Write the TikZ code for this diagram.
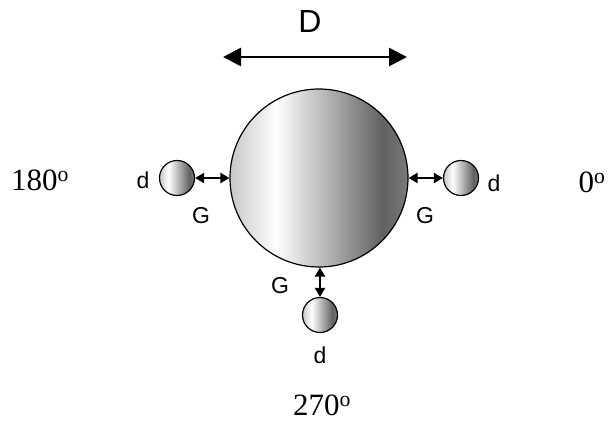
\documentclass[tikz,border=0pt]{standalone}
\usepackage{fontspec}
\setmainfont{Liberation Serif}
\setsansfont{Liberation Sans}
\usetikzlibrary{arrows.meta}
\pgfdeclarehorizontalshading{ballshade}{100bp}{color(0bp)=(black!22); color(25bp)=(black!22); color(38bp)=(white); color(68bp)=(black!62); color(75bp)=(black!52); color(100bp)=(black!52)}
\begin{document}
\begin{tikzpicture}[x=1pt,y=-1pt,
  ball/.style={circle,draw=black,line width=1.2pt,shading=ballshade,inner sep=0pt},
  gap/.style={{Triangle[length=9pt,width=10pt]}-{Triangle[length=9pt,width=10pt]},line width=2.3pt},
  lab/.style={font=\sffamily\fontsize{23}{23}\selectfont,inner sep=0pt},
  ang/.style={font=\fontsize{31}{31}\selectfont,inner sep=0pt}]
\useasboundingbox (0,0) rectangle (611,421);
\node[ball,minimum size=178pt] (big) at (319,178) {};
\node[ball,minimum size=35pt] (sl) at (177,178) {};
\node[ball,minimum size=35pt] (sr) at (461,178) {};
\node[ball,minimum size=35pt] (sb) at (320,315) {};
\coordinate (dl) at (223,57);
\coordinate (dr) at (407,57);
\draw[{Triangle[length=18pt,width=18pt]}-{Triangle[length=18pt,width=18pt]},line width=2.8pt] (dl) -- (dr);
\node[font=\sffamily\fontsize{32}{32}\selectfont,inner sep=0pt] (D) at (310,21) {D};
\draw[gap] (sl.east) -- (big.west);
\draw[gap] (big.east) -- (sr.west);
\draw[gap] (big.south -| sb.north) -- (sb.north);
\node[lab] (dL) at (143,180) {d};
\node[lab] (dR) at (494,183) {d};
\node[lab] (dB) at (320,355) {d};
\node[lab] (gL) at (201,216) {G};
\node[lab] (gR) at (425,216) {G};
\node[lab] (gB) at (280,286) {G};
\node[ang] (a180) at (40,180) {180\textsuperscript{o}};
\node[ang] (a0) at (592,182) {0\textsuperscript{o}};
\node[ang] (a270) at (322,405) {270\textsuperscript{o}};
\end{tikzpicture}
\end{document}
